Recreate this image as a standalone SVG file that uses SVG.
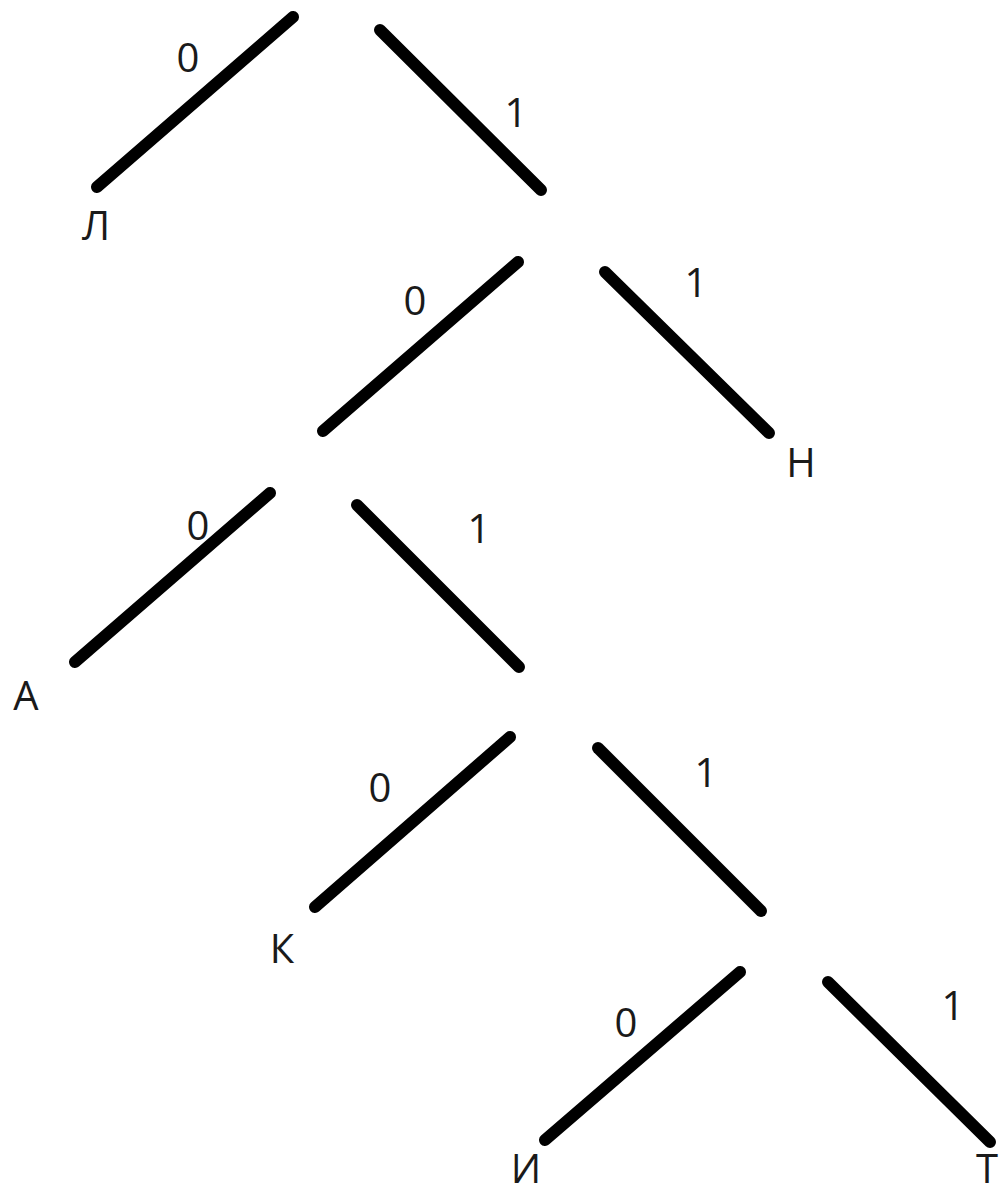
<svg xmlns="http://www.w3.org/2000/svg" width="1005" height="1196" viewBox="0 0 1005 1196">
<style>
.e{stroke:#000;stroke-width:12;stroke-linecap:round;fill:none}
.t{font-family:"Open Sans","Noto Sans","DejaVu Sans",sans-serif;font-size:40px;fill:#1a1a1a;text-anchor:middle}
</style>
<rect width="1005" height="1196" fill="#fff"/>
<g id="connectors">
<line class="e" x1="293" y1="17" x2="97" y2="187"/>
<line class="e" x1="380" y1="30" x2="541" y2="190"/>
<line class="e" x1="518" y1="262" x2="323" y2="431"/>
<line class="e" x1="605" y1="272" x2="769" y2="433"/>
<line class="e" x1="270" y1="493" x2="75" y2="662"/>
<line class="e" x1="357" y1="505" x2="519" y2="667"/>
<line class="e" x1="510" y1="737" x2="315" y2="907"/>
<line class="e" x1="598" y1="748" x2="761" y2="911"/>
<line class="e" x1="740" y1="972" x2="545" y2="1140"/>
<line class="e" x1="828" y1="982" x2="990" y2="1142"/>
</g>
<g id="edge-labels">
<text class="t" x="188" y="72">0</text>
<text class="t" x="516" y="127">1</text>
<text class="t" x="415" y="315">0</text>
<text class="t" x="696" y="297">1</text>
<text class="t" x="198" y="540">0</text>
<text class="t" x="479" y="543">1</text>
<text class="t" x="380" y="802">0</text>
<text class="t" x="706" y="787">1</text>
<text class="t" x="626" y="1037">0</text>
<text class="t" x="953" y="1020">1</text>
</g>
<g id="node-L"><text class="t" x="96" y="240">Л</text></g>
<g id="node-N"><text class="t" x="801" y="477">Н</text></g>
<g id="node-A"><text class="t" x="26" y="710">А</text></g>
<g id="node-K"><text class="t" x="282" y="963">К</text></g>
<g id="node-I"><text class="t" x="526" y="1183">И</text></g>
<g id="node-T"><text class="t" x="987" y="1183">Т</text></g>
</svg>
